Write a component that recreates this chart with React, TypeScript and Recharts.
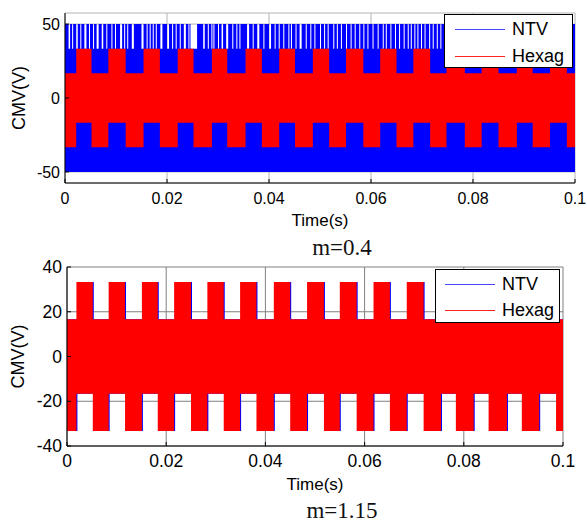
import { ComposedChart, Area, XAxis, YAxis, CartesianGrid, Legend } from "recharts";

const SANS = "'Liberation Sans', Arial, sans-serif";
const SERIF = "'Liberation Serif', 'Times New Roman', serif";

const timeTicks = [0, 0.02, 0.04, 0.06, 0.08, 0.1];
const cmvTicksA = [-50, 0, 50];
const cmvTicksB = [-40, -20, 0, 20, 40];

// CMV levels (V): Vdc/2, Vdc/3, Vdc/6 for Vdc = 100 V
const cmvLevels = [50, 33.3, 16.7];

// m = 0.4 — Hexag sector changes (s); band per sector: L = low block, U = high block
const hexagEdgesA = [
  0, 0.0022, 0.0052, 0.0085, 0.0119, 0.0154, 0.0186, 0.0221, 0.0252, 0.0288, 0.0318,
  0.0354, 0.0386, 0.042, 0.0451, 0.0486, 0.0518, 0.0551, 0.0585, 0.0618, 0.065,
  0.0683, 0.0716, 0.0748, 0.0784, 0.0817, 0.085, 0.0886, 0.0917, 0.0951, 0.0984, 0.1,
];
const hexagSidesA = "LULULULULULULULULULULULULULULUL";

// m = 0.4 — NTV: short intervals where the top falls back from +Vdc/2 to +Vdc/3 (s)
const ntvDropsA: [number, number][] = [
  [0.0007, 0.001], [0.0014, 0.0016], [0.0022, 0.0025], [0.003, 0.0032], [0.0038, 0.0042],
  [0.0047, 0.0049], [0.0055, 0.0057], [0.0062, 0.0066], [0.0072, 0.0075], [0.0081, 0.0083],
  [0.0091, 0.0093], [0.0098, 0.01], [0.0108, 0.0112], [0.0116, 0.0118], [0.0122, 0.0124],
  [0.0131, 0.0135], [0.015, 0.0154], [0.016, 0.0162], [0.0166, 0.0168], [0.0172, 0.0174],
  [0.0178, 0.018], [0.0187, 0.0191], [0.02, 0.0204], [0.021, 0.0212], [0.0217, 0.0219],
  [0.0225, 0.0227], [0.0233, 0.0237], [0.0242, 0.0244], [0.0246, 0.0259], [0.0271, 0.0274],
  [0.028, 0.0282], [0.0287, 0.0289], [0.0291, 0.0293], [0.03, 0.0302], [0.0307, 0.031],
  [0.0316, 0.032], [0.0328, 0.033], [0.0336, 0.0338], [0.0342, 0.0344], [0.0357, 0.0361],
  [0.0368, 0.037], [0.0377, 0.0381], [0.0389, 0.0391], [0.04, 0.0404], [0.0411, 0.0413],
  [0.0419, 0.0421], [0.0428, 0.043], [0.0438, 0.044], [0.0443, 0.0445], [0.0452, 0.0454],
  [0.046, 0.0464], [0.0472, 0.0474], [0.0481, 0.0483], [0.0489, 0.0491], [0.05, 0.0502],
  [0.0508, 0.051], [0.0515, 0.0517], [0.0526, 0.0528], [0.0533, 0.0535], [0.0541, 0.0543],
  [0.0551, 0.0553], [0.056, 0.0562], [0.0568, 0.057], [0.0577, 0.0579], [0.0585, 0.0587],
  [0.0593, 0.0595], [0.0603, 0.0605], [0.0613, 0.0615], [0.0623, 0.0625], [0.0629, 0.0631],
  [0.0638, 0.064], [0.0647, 0.0649], [0.0655, 0.0657], [0.0664, 0.0666], [0.0672, 0.0674],
  [0.0678, 0.068], [0.0685, 0.0687], [0.0691, 0.0693], [0.0698, 0.07], [0.0705, 0.0707],
  [0.0714, 0.0716], [0.0721, 0.0723], [0.0729, 0.0731], [0.0736, 0.0738], [0.0745, 0.0747],
  [0.0754, 0.0756], [0.0767, 0.0769], [0.0779, 0.0781], [0.079, 0.0792], [0.0804, 0.0806],
  [0.0817, 0.0819], [0.0829, 0.0831], [0.0841, 0.0843], [0.0854, 0.0856], [0.0866, 0.0868],
  [0.0878, 0.088], [0.0889, 0.0891], [0.0902, 0.0904], [0.0914, 0.0916], [0.0927, 0.0929],
  [0.0939, 0.0941], [0.095, 0.0952], [0.0962, 0.0964], [0.0974, 0.0976], [0.0987, 0.0989],
];

// m = 1.15 — both schemes use the same blocks, NTV switches a touch later
const hexagEdgesB = [
  0, 0.0019, 0.0052, 0.0084, 0.0117, 0.0151, 0.0183, 0.0216, 0.025, 0.0283, 0.0316,
  0.0349, 0.0382, 0.0417, 0.045, 0.0484, 0.0518, 0.055, 0.0584, 0.0618, 0.0651,
  0.0685, 0.0719, 0.0754, 0.0784, 0.082, 0.085, 0.0887, 0.0917, 0.0952, 0.0986, 0.1,
];
const hexagSidesB = "LULULULULULULULULULULULULULULUL";
const ntvEdgesB = [
  0, 0.0021, 0.0054, 0.0086, 0.0119, 0.0153, 0.0185, 0.0218, 0.0252, 0.0285, 0.0318,
  0.0351, 0.0384, 0.0419, 0.0452, 0.0486, 0.052, 0.0552, 0.0586, 0.062, 0.0653,
  0.0687, 0.0721, 0.0756, 0.0786, 0.0822, 0.0852, 0.0889, 0.0919, 0.0954, 0.0988, 0.1,
];
const ntvSidesB = "LULULULULULULULULULULULULULULUL";

const series = [
  { key: "ntv", name: "NTV", color: "#0000ff", legendColor: "#4646ff" },
  { key: "hexag", name: "Hexag", color: "#ff0000", legendColor: "#ff2020" },
];

const [vHalf, vThird, vSixth] = cmvLevels;
const tEnd = timeTicks[timeTicks.length - 1];

type Row = { t: number; [k: string]: number | number[] };

// one row per sector start, value = [low, high] of the band the waveform switches in
function sectorRows(key: string, edges: number[], sides: string): Row[] {
  return edges.map((t, i) => ({
    t,
    [key]: sides[Math.min(i, sides.length - 1)] === "U" ? [-vSixth, vThird] : [-vThird, vSixth],
  }));
}

function dropRows(key: string, drops: [number, number][]): Row[] {
  const rows: Row[] = [{ t: 0, [key]: [-vHalf, vHalf] }];
  drops.forEach(([a, b]) => {
    rows.push({ t: a, [key]: [-vHalf, vThird] });
    rows.push({ t: b, [key]: [-vHalf, vHalf] });
  });
  rows.push({ t: tEnd, [key]: [-vHalf, vHalf] });
  return rows;
}

const byTime = (a: Row, b: Row) => a.t - b.t;
const rowsA = [...dropRows("ntv", ntvDropsA), ...sectorRows("hexag", hexagEdgesA, hexagSidesA)].sort(byTime);
const rowsB = [...sectorRows("ntv", ntvEdgesB, ntvSidesB), ...sectorRows("hexag", hexagEdgesB, hexagSidesB)].sort(byTime);

type LegendSpec = { left: number; top: number; w: number; h: number; lineX: number; textX: number; rows: number[] };

function LegendBox({ spec }: { spec: LegendSpec }) {
  return (
    <svg width={spec.w} height={spec.h} style={{ display: "block" }}>
      <rect x={0.5} y={0.5} width={spec.w - 1} height={spec.h - 1} fill="#fff" stroke="#000" />
      {series.map((s, i) => (
        <g key={s.key}>
          <line
            x1={spec.lineX}
            x2={spec.lineX + 50}
            y1={spec.rows[i] + 0.5}
            y2={spec.rows[i] + 0.5}
            stroke={s.legendColor}
            strokeWidth={1}
          />
          <text x={spec.textX} y={spec.rows[i]} dominantBaseline="central" fontSize={18} fontFamily={SANS} fill="#000">
            {s.name}
          </text>
        </g>
      ))}
    </svg>
  );
}

type PanelProps = {
  rows: Row[];
  top: number;
  height: number;
  marginTop: number;
  marginRight: number;
  yAxisWidth: number;
  xAxisHeight: number;
  yDomain: [number, number];
  yTicks: number[];
  tickFont: number;
  xTickMargin: number;
  gridColor: string;
  timeBaseline: number;
  caption: string;
  captionX: number;
  captionBaseline: number;
  yLabelX: number;
  legend: LegendSpec;
};

function Panel(p: PanelProps) {
  const tickStyle = { fill: "#000", fontSize: p.tickFont, fontFamily: SANS };
  return (
    <div style={{ position: "absolute", left: 0, top: p.top }}>
      <ComposedChart
        width={587}
        height={p.height}
        data={p.rows}
        margin={{ top: p.marginTop, right: p.marginRight, bottom: 0, left: 0 }}
      >
        <CartesianGrid stroke={p.gridColor} strokeWidth={1} />
        {series.map((s) => (
          <Area
            key={s.key}
            dataKey={s.key}
            name={s.name}
            type="stepAfter"
            fill={s.color}
            fillOpacity={1}
            stroke="none"
            connectNulls
            dot={false}
            activeDot={false}
            isAnimationActive={false}
          />
        ))}
        <XAxis
          dataKey="t"
          type="number"
          domain={[0, tEnd]}
          ticks={timeTicks}
          interval={0}
          allowDataOverflow
          height={p.xAxisHeight}
          tick={tickStyle}
          tickSize={-4}
          tickMargin={p.xTickMargin}
          stroke="#000"
          label={{
            content: (lp: any) => {
              const vb = lp.viewBox;
              return (
                <g>
                  <text
                    x={vb.x + vb.width / 2}
                    y={vb.y + p.timeBaseline}
                    textAnchor="middle"
                    fontSize={17}
                    fontFamily={SANS}
                    fill="#000"
                  >
                    Time(s)
                  </text>
                  <text
                    x={p.captionX}
                    y={vb.y + p.captionBaseline}
                    textAnchor="middle"
                    fontSize={23}
                    fontFamily={SERIF}
                    fill="#111"
                  >
                    {p.caption}
                  </text>
                </g>
              );
            },
          }}
        />
        <XAxis
          xAxisId="top"
          dataKey="t"
          type="number"
          orientation="top"
          domain={[0, tEnd]}
          ticks={timeTicks}
          interval={0}
          allowDataOverflow
          height={0}
          tick={false}
          tickSize={-4}
          stroke="#000"
        />
        <YAxis
          type="number"
          domain={p.yDomain}
          ticks={p.yTicks}
          interval={0}
          allowDataOverflow
          width={p.yAxisWidth}
          tick={tickStyle}
          tickSize={-4}
          tickMargin={9}
          stroke="#000"
          label={{
            content: (lp: any) => {
              const vb = lp.viewBox;
              const cy = vb.y + vb.height / 2;
              return (
                <text
                  transform={`translate(${vb.x + p.yLabelX}, ${cy}) rotate(-90)`}
                  textAnchor="middle"
                  dominantBaseline="central"
                  fontSize={18}
                  fontFamily={SANS}
                  fill="#000"
                >
                  CMV(V)
                </text>
              );
            },
          }}
        />
        <YAxis
          yAxisId="right"
          type="number"
          orientation="right"
          domain={p.yDomain}
          ticks={p.yTicks}
          interval={0}
          allowDataOverflow
          width={0}
          tick={false}
          tickSize={-4}
          stroke="#000"
        />
        <Legend
          layout="horizontal"
          verticalAlign="middle"
          align="center"
          content={() => <LegendBox spec={p.legend} />}
          wrapperStyle={{
            position: "absolute",
            left: p.legend.left,
            top: p.legend.top,
            width: p.legend.w,
            height: p.legend.h,
          }}
        />
      </ComposedChart>
    </div>
  );
}

export default function App() {
  return (
    <div style={{ position: "absolute", left: 0, top: 0, width: 587, height: 524, background: "#fff", overflow: "hidden" }}>
      <Panel
        rows={rowsA}
        top={0}
        height={262}
        marginTop={13}
        marginRight={12}
        yAxisWidth={65}
        xAxisHeight={79}
        yDomain={[-57.5, 57.5]}
        yTicks={cmvTicksA}
        tickFont={16}
        xTickMargin={14}
        gridColor="#b4b4b4"
        timeBaseline={43}
        caption="m=0.4"
        captionX={342}
        captionBaseline={72}
        yLabelX={19}
        legend={{ left: 444, top: 14, w: 129, h: 54, lineX: 11, textX: 68, rows: [15, 42] }}
      />
      <Panel
        rows={rowsB}
        top={250}
        height={274}
        marginTop={17}
        marginRight={24}
        yAxisWidth={67}
        xAxisHeight={78}
        yDomain={[-40, 40]}
        yTicks={cmvTicksB}
        tickFont={17.5}
        xTickMargin={13}
        gridColor="#808080"
        timeBaseline={44}
        caption="m=1.15"
        captionX={342}
        captionBaseline={72}
        yLabelX={17.5}
        legend={{ left: 435, top: 19, w: 125, h: 54, lineX: 10, textX: 67, rows: [15, 41] }}
      />
    </div>
  );
}
